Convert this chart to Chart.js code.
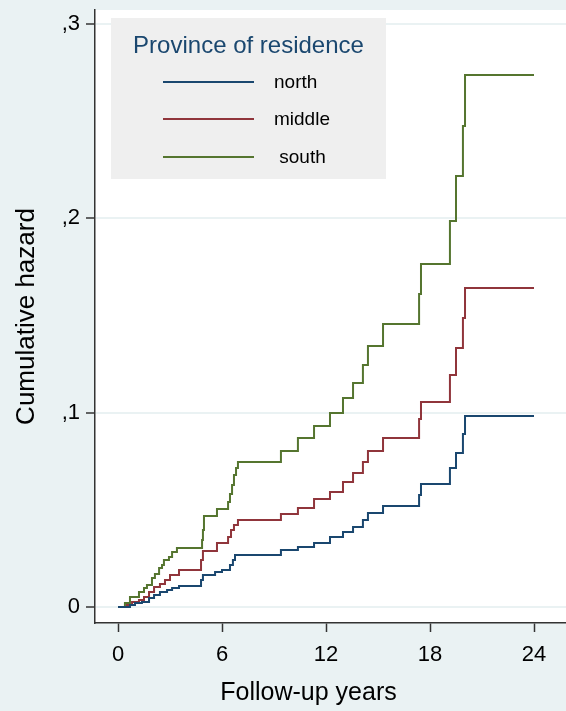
<!DOCTYPE html>
<html><head><meta charset="utf-8">
<script src="https://cdn.jsdelivr.net/npm/chart.js@4/dist/chart.umd.min.js"></script>
<style>html,body{margin:0;padding:0;background:#EAF2F3;} #wrap{width:566px;height:711px;}</style>
</head><body><div id="wrap"><canvas id="c" width="566" height="711"></canvas></div>
<script>
// ---- data ----
const xTickValues = [0, 6, 12, 18, 24];
const xTickLabels = ['0', '6', '12', '18', '24'];
const yTickValues = [0, 0.1, 0.2, 0.3];
const yTickLabels = ['0', ',1', ',2', ',3'];
const legendTitle = 'Province of residence';
const xTitle = 'Follow-up years';
const yTitle = 'Cumulative hazard';
const seriesNames = ['north', 'middle', ' south'];

const northTime   = [0,0.69,0.98,1.38,1.79,2.08,2.42,2.83,3.12,3.52,4.79,4.90,5.60,6.00,6.46,6.63,6.75,9.40,10.38,11.31,12.23,12.98,13.56,14.13,14.42,15.29,17.37,17.48,19.15,19.50,19.90,20.02,24];
const northHazard = [0,0.001,0.0021,0.0026,0.0046,0.0062,0.0077,0.0087,0.0098,0.0108,0.0139,0.0165,0.018,0.019,0.0216,0.0242,0.0268,0.0293,0.0309,0.0329,0.036,0.0386,0.0412,0.0448,0.0484,0.052,0.0576,0.0633,0.0715,0.0793,0.089,0.0983,0.0983];

const middleTime   = [0,0.52,0.81,1.21,1.50,1.79,2.08,2.42,2.71,3.00,3.52,4.79,4.90,5.71,6.35,6.52,6.69,6.92,9.40,10.38,11.31,12.23,12.98,13.56,14.13,14.42,15.29,17.37,17.48,19.15,19.50,19.90,20.02,24];
const middleHazard = [0,0.001,0.0026,0.0036,0.0051,0.0077,0.0103,0.0118,0.0139,0.0165,0.019,0.0242,0.0288,0.0329,0.036,0.0396,0.0422,0.0448,0.0479,0.051,0.0556,0.0592,0.0643,0.069,0.0746,0.0803,0.087,0.0968,0.1055,0.1194,0.1333,0.1487,0.1642,0.1642];

const southTime   = [0,0.40,0.69,1.21,1.50,1.67,1.96,2.13,2.37,2.54,2.65,2.94,3.12,3.40,4.85,4.90,4.96,5.71,6.35,6.46,6.58,6.69,6.81,6.92,9.40,10.38,11.31,12.23,12.98,13.56,14.13,14.42,15.29,17.37,17.48,19.15,19.50,19.90,20.02,24];
const southHazard = [0,0.0021,0.0051,0.0077,0.0098,0.0113,0.0149,0.017,0.0201,0.0216,0.0242,0.0257,0.0283,0.0304,0.0345,0.0396,0.0468,0.0504,0.054,0.0582,0.0628,0.0679,0.0715,0.0746,0.0803,0.087,0.0932,0.0998,0.1076,0.1153,0.1245,0.1343,0.1456,0.1611,0.1765,0.1987,0.2218,0.2476,0.2738,0.2738];

const seriesColors = ['#1A476F', '#90353B', '#55752F'];

// ---- build ----
const toPts = (t, v) => t.map((x, i) => ({x: x, y: v[i]}));
const allSeries = [toPts(northTime, northHazard), toPts(middleTime, middleHazard), toPts(southTime, southHazard)];
const FONT = '"Liberation Sans", Arial, sans-serif';

const plotBg = {
  id: 'plotBg',
  beforeDraw(chart) {
    const {ctx, chartArea: a} = chart;
    ctx.save();
    ctx.fillStyle = '#FFFFFF';
    ctx.fillRect(a.left, a.top, a.right - a.left, a.bottom - a.top);
    ctx.restore();
  }
};

const overlay = {
  id: 'overlay',
  afterDraw(chart) {
    const ctx = chart.ctx;
    ctx.save();
    // legend box
    ctx.fillStyle = '#EFEFEF';
    ctx.fillRect(111, 18, 275, 161);
    ctx.fillStyle = '#1A476F';
    ctx.font = '24px ' + FONT;
    ctx.textAlign = 'center';
    ctx.textBaseline = 'middle';
    ctx.fillText(legendTitle, 248.5, 46);
    const rows = [82, 119, 157];
    chart.data.datasets.forEach((ds, i) => {
      ctx.strokeStyle = ds.borderColor;
      ctx.lineWidth = 2;
      ctx.beginPath();
      ctx.moveTo(163, rows[i]);
      ctx.lineTo(254, rows[i]);
      ctx.stroke();
      ctx.fillStyle = '#000000';
      ctx.font = '19px ' + FONT;
      ctx.textAlign = 'left';
      ctx.fillText(ds.label, 274, rows[i] + 1);
    });
    // x axis title
    ctx.fillStyle = '#000000';
    ctx.font = '25px ' + FONT;
    ctx.textAlign = 'center';
    ctx.textBaseline = 'middle';
    ctx.fillText(xTitle, 308.5, 693);
    ctx.restore();
  }
};

new Chart(document.getElementById('c'), {
  type: 'line',
  data: {
    datasets: allSeries.map((pts, i) => ({
      label: seriesNames[i],
      data: pts,
      borderColor: seriesColors[i],
      backgroundColor: seriesColors[i],
      borderWidth: 2,
      pointRadius: 0,
      stepped: 'before',
      fill: false,
      tension: 0
    }))
  },
  options: {
    responsive: false,
    animation: false,
    devicePixelRatio: 1,
    layout: {padding: {top: 10, left: 0, right: 0, bottom: 0}},
    plugins: {legend: {display: false}, tooltip: {enabled: false}, title: {display: false}},
    scales: {
      x: {
        type: 'linear',
        min: -1.327, max: 25.846,
        afterBuildTicks: s => { s.ticks = xTickValues.map(v => ({value: v})); },
        afterFit: s => { s.height = 88; s.paddingLeft = 0; s.paddingRight = 0; },
        ticks: {
          callback: (v, i) => xTickLabels[i],
          font: {family: FONT, size: 22},
          color: '#000000',
          padding: 10,
          maxRotation: 0,
          autoSkip: false
        },
        grid: {drawOnChartArea: false, drawTicks: true, tickLength: 9, tickColor: '#333333', tickWidth: 1.5},
        border: {display: true, color: '#333333', width: 1.5}
      },
      y: {
        type: 'linear',
        min: -0.00823, max: 0.30725,
        afterBuildTicks: s => { s.ticks = yTickValues.map(v => ({value: v})); },
        afterFit: s => { s.width = 95; s.paddingTop = 0; s.paddingBottom = 0; },
        ticks: {
          callback: (v, i) => yTickLabels[i],
          font: {family: FONT, size: 22},
          color: '#000000',
          padding: 6,
          autoSkip: false
        },
        grid: {drawOnChartArea: true, color: '#EAF2F3', lineWidth: 2, drawTicks: true, tickLength: 9, tickColor: '#333333', tickWidth: 1.5},
        border: {display: true, color: '#333333', width: 1.5},
        title: {display: true, text: yTitle, color: '#000000', font: {family: FONT, size: 26, lineHeight: 1.2}, padding: {top: 11, bottom: 0}}
      }
    }
  },
  plugins: [plotBg, overlay]
});
</script>
</body></html>
